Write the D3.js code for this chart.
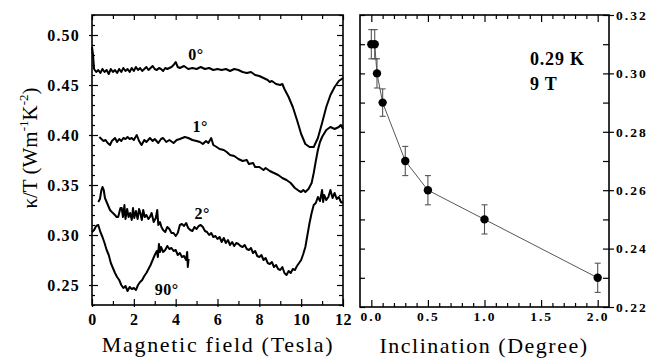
<!DOCTYPE html>
<html>
<head>
<meta charset="utf-8">
<script src="https://cdn.jsdelivr.net/npm/d3@7"></script>
<style>
  body { margin: 0; background: #fff; }
  svg { display: block; }
  .tick text { font-family: "Liberation Serif", "Times New Roman", serif; font-weight: bold; fill: #000; }
  .domain { display: none; }
  .tick line { stroke: #000; stroke-width: 1.2; }
</style>
</head>
<body>
<div id="chart"></div>
<script>
// Left panel: kappa/T vs field, four inclinations
const field0 = [0.0,0.05,0.1,0.2,0.3,0.4,0.5,0.6,0.7,0.8,0.9,1.0,1.1,1.2,1.3,1.4,1.5,1.6,1.7,1.8,1.9,2.0,2.1,2.2,2.3,2.4,2.5,2.6,2.7,2.8,2.9,3.0,3.1,3.2,3.3,3.4,3.5,3.6,3.7,3.8,3.9,4.0,4.1,4.2,4.4,4.6,4.8,5.0,5.2,5.4,5.6,5.8,6.0,6.2,6.4,6.6,6.8,7.0,7.2,7.4,7.6,7.8,8.0,8.2,8.4,8.5,8.6,8.8,9.0,9.1,9.2,9.4,9.6,9.8,10.0,10.2,10.4,10.6,10.8,11.0,11.2,11.4,11.6,11.8,12.0]
const kappa0 = [0.488,0.480,0.466,0.463,0.465,0.462,0.466,0.463,0.465,0.461,0.466,0.463,0.465,0.462,0.466,0.463,0.467,0.464,0.466,0.463,0.467,0.464,0.468,0.465,0.467,0.464,0.466,0.468,0.465,0.467,0.469,0.466,0.465,0.467,0.466,0.464,0.467,0.466,0.467,0.468,0.470,0.473,0.468,0.467,0.469,0.466,0.467,0.466,0.468,0.466,0.467,0.465,0.466,0.465,0.466,0.464,0.466,0.465,0.463,0.462,0.463,0.460,0.459,0.457,0.455,0.453,0.454,0.451,0.450,0.451,0.446,0.438,0.428,0.415,0.401,0.391,0.388,0.388,0.397,0.412,0.428,0.440,0.448,0.454,0.457]

const field1 = [0.35,0.45,0.55,0.65,0.75,0.86,0.95,1.05,1.1,1.2,1.3,1.4,1.5,1.6,1.7,1.8,1.9,2.0,2.14,2.25,2.37,2.5,2.6,2.77,2.9,3.0,3.17,3.3,3.4,3.55,3.7,3.9,4.05,4.2,4.44,4.6,4.8,5.0,5.16,5.3,5.45,5.56,5.7,5.8,5.96,6.1,6.3,6.44,6.6,6.8,7.0,7.2,7.4,7.5,7.7,7.8,8.0,8.2,8.3,8.5,8.7,8.9,9.1,9.3,9.5,9.7,9.9,10.0,10.1,10.2,10.35,10.5,10.6,10.7,10.8,10.9,11.0,11.2,11.4,11.6,11.8,11.9,12.0]
const kappa1 = [0.398,0.396,0.394,0.395,0.392,0.390,0.394,0.396,0.397,0.393,0.396,0.394,0.397,0.396,0.398,0.396,0.397,0.395,0.400,0.394,0.390,0.395,0.393,0.397,0.394,0.396,0.392,0.396,0.397,0.393,0.395,0.392,0.395,0.396,0.398,0.397,0.395,0.394,0.393,0.391,0.394,0.392,0.397,0.390,0.388,0.386,0.385,0.383,0.380,0.379,0.376,0.374,0.375,0.371,0.372,0.368,0.368,0.365,0.367,0.364,0.362,0.360,0.357,0.355,0.352,0.347,0.344,0.343,0.345,0.343,0.346,0.352,0.362,0.374,0.385,0.393,0.398,0.405,0.408,0.406,0.408,0.410,0.406]

const field2 = [0.3,0.38,0.45,0.5,0.56,0.62,0.7,0.8,0.86,0.95,1.05,1.18,1.25,1.3,1.36,1.42,1.48,1.55,1.6,1.68,1.75,1.82,1.9,1.96,2.02,2.1,2.18,2.25,2.3,2.38,2.45,2.52,2.6,2.7,2.77,2.85,2.95,3.05,3.12,3.17,3.25,3.32,3.4,3.5,3.6,3.7,3.8,3.9,4.0,4.1,4.2,4.3,4.4,4.5,4.6,4.7,4.8,4.9,5.0,5.1,5.2,5.3,5.4,5.5,5.6,5.7,5.8,5.9,6.0,6.1,6.2,6.3,6.4,6.5,6.6,6.7,6.8,6.9,7.0,7.1,7.2,7.3,7.4,7.5,7.6,7.7,7.8,7.9,8.0,8.1,8.2,8.3,8.4,8.5,8.6,8.7,8.8,8.9,9.0,9.1,9.2,9.3,9.4,9.5,9.6,9.7,9.8,9.9,10.0,10.1,10.2,10.3,10.4,10.5,10.6,10.7,10.8,10.9,11.0,11.05,11.1,11.2,11.3,11.4,11.5,11.6,11.7,11.8,11.9,12.0]
const kappa2 = [0.333,0.336,0.345,0.348,0.345,0.337,0.333,0.328,0.325,0.323,0.321,0.318,0.318,0.322,0.327,0.327,0.318,0.330,0.316,0.326,0.318,0.322,0.315,0.327,0.317,0.324,0.316,0.326,0.323,0.315,0.325,0.318,0.320,0.316,0.318,0.322,0.313,0.317,0.325,0.310,0.313,0.308,0.305,0.303,0.308,0.306,0.302,0.302,0.299,0.302,0.310,0.311,0.309,0.312,0.307,0.305,0.304,0.308,0.306,0.309,0.310,0.308,0.304,0.303,0.300,0.302,0.298,0.299,0.296,0.298,0.293,0.297,0.292,0.295,0.290,0.293,0.289,0.292,0.291,0.289,0.288,0.290,0.286,0.285,0.287,0.282,0.284,0.279,0.278,0.280,0.275,0.277,0.272,0.271,0.273,0.268,0.270,0.266,0.265,0.268,0.262,0.260,0.264,0.262,0.266,0.265,0.269,0.272,0.275,0.281,0.288,0.300,0.312,0.322,0.330,0.332,0.338,0.334,0.345,0.333,0.340,0.335,0.338,0.345,0.337,0.342,0.336,0.338,0.333,0.332]

const field90 = [0.0,0.1,0.2,0.3,0.4,0.5,0.6,0.7,0.8,0.9,1.0,1.1,1.2,1.3,1.4,1.5,1.6,1.7,1.8,1.9,2.0,2.1,2.2,2.3,2.4,2.5,2.6,2.7,2.8,2.9,3.0,3.1,3.15,3.2,3.25,3.3,3.4,3.5,3.6,3.7,3.8,3.9,4.0,4.1,4.2,4.3,4.4,4.5,4.55,4.58,4.62]
const kappa90 = [0.303,0.305,0.309,0.310,0.303,0.298,0.292,0.285,0.280,0.272,0.267,0.262,0.258,0.255,0.250,0.247,0.249,0.244,0.248,0.246,0.247,0.245,0.250,0.253,0.255,0.259,0.262,0.266,0.270,0.275,0.280,0.284,0.278,0.291,0.283,0.288,0.283,0.285,0.289,0.286,0.287,0.284,0.285,0.280,0.282,0.278,0.279,0.275,0.283,0.268,0.276]

const curveLabels = ['0°', '1°', '2°', '90°']

// Right panel: kappa/T at 0.29 K, 9 T vs inclination
const inclination = [0, 0.03, 0.05, 0.1, 0.3, 0.5, 1.0, 2.0]
const kappaIncl = [0.31, 0.31, 0.30, 0.29, 0.27, 0.26, 0.25, 0.23]
const kappaErr = [0.005, 0.005, 0.005, 0.0047, 0.005, 0.005, 0.005, 0.005]

const leftYTicks = [0.25, 0.30, 0.35, 0.40, 0.45, 0.50]
const leftXTicks = [0, 2, 4, 6, 8, 10, 12]
const rightYTicks = [0.22, 0.24, 0.26, 0.28, 0.30, 0.32]
const rightXTicks = [0, 0.5, 1.0, 1.5, 2.0]

const W = 647, H = 360
const serif = '"Liberation Serif", "Times New Roman", serif'

const svg = d3.select('#chart').append('svg')
  .attr('width', W)
  .attr('height', H)
  .attr('viewBox', `0 0 ${W} ${H}`)

// ---- left panel ----
const xL = d3.scaleLinear().domain([0, 12]).range([92, 343])
const yL = d3.scaleLinear().domain([0.23, 0.52]).range([305, 15])

const minorL = d3.range(23, 53).map(d => d / 100).filter(d => Math.round(d * 100) % 5 !== 0)
const minorLX = d3.range(1, 12, 2)

function addAxis(axis, tx, ty, fontSize, spacing) {
  const g = svg.append('g').attr('transform', `translate(${tx},${ty})`).call(axis)
  g.attr('font-family', serif)
  g.selectAll('text')
    .style('font-family', serif)
    .style('font-size', fontSize + 'px')
    .style('letter-spacing', spacing + 'px')
  return g
}

// bottom
addAxis(d3.axisBottom(xL).tickValues(leftXTicks).tickSize(-6).tickPadding(9).tickFormat(d3.format('d')), 0, 305, 16, 0.5)
addAxis(d3.axisBottom(xL).tickValues(leftXTicks).tickSize(2).tickFormat(''), 0, 305, 16, 0)
addAxis(d3.axisBottom(xL).tickValues(minorLX).tickSize(-4).tickFormat(''), 0, 305, 16, 0)
// top
addAxis(d3.axisTop(xL).tickValues(leftXTicks).tickSize(-5).tickFormat(''), 0, 15, 16, 0)
addAxis(d3.axisTop(xL).tickValues(minorLX).tickSize(-4).tickFormat(''), 0, 15, 16, 0)
// left
addAxis(d3.axisLeft(yL).tickValues(leftYTicks).tickSize(-6).tickPadding(12).tickFormat(d3.format('.2f')), 92, 0, 16, 1.2)
addAxis(d3.axisLeft(yL).tickValues(leftYTicks).tickSize(3).tickFormat(''), 92, 0, 16, 0)
addAxis(d3.axisLeft(yL).tickValues(minorL).tickSize(-3).tickFormat(''), 92, 0, 16, 0)
// right
addAxis(d3.axisRight(yL).tickValues(leftYTicks).tickSize(-6).tickFormat(''), 343, 0, 16, 0)
addAxis(d3.axisRight(yL).tickValues(minorL).tickSize(-4).tickFormat(''), 343, 0, 16, 0)

const lineL = d3.line().x(d => xL(d[0])).y(d => yL(d[1]))
const curves = [
  [field0, kappa0],
  [field1, kappa1],
  [field2, kappa2],
  [field90, kappa90]
]
svg.append('g').selectAll('path')
  .data(curves)
  .join('path')
  .attr('d', c => lineL(c[0].map((b, i) => [b, c[1][i]])))
  .attr('fill', 'none')
  .attr('stroke', '#000')
  .attr('stroke-width', 2)
  .attr('stroke-linejoin', 'round')

// curve labels placed at field / kappa positions
const labelField = [4.6, 4.8, 4.9, 3.0]
const labelKappa = [0.475, 0.403, 0.316, 0.240]
svg.append('g').selectAll('text')
  .data(curveLabels)
  .join('text')
  .attr('x', (d, i) => xL(labelField[i]))
  .attr('y', (d, i) => yL(labelKappa[i]))
  .attr('font-family', serif)
  .attr('font-weight', 'bold')
  .attr('font-size', 16)
  .attr('letter-spacing', 0.5)
  .text(d => d)

svg.append('rect')
  .attr('x', 92).attr('y', 15).attr('width', 251).attr('height', 290)
  .attr('fill', 'none').attr('stroke', '#000').attr('stroke-width', 1.6)

svg.append('text')
  .attr('x', 218).attr('y', 352)
  .attr('text-anchor', 'middle')
  .attr('font-family', serif)
  .attr('font-size', 22)
  .attr('letter-spacing', 1.7)
  .text('Magnetic field (Tesla)')

const yTitle = svg.append('text')
  .attr('transform', 'translate(37,148) rotate(-90)')
  .attr('text-anchor', 'middle')
  .attr('font-family', serif)
  .attr('font-size', 21)
yTitle.append('tspan').text('κ/T (Wm')
yTitle.append('tspan').attr('font-size', 13).attr('dy', -9).text('-1')
yTitle.append('tspan').attr('dy', 9).text('K')
yTitle.append('tspan').attr('font-size', 13).attr('dy', -9).text('-2')
yTitle.append('tspan').attr('dy', 9).text(')')

// ---- right panel ----
const xR = d3.scaleLinear().domain([-0.1, 2.1]).range([360, 609])
const yR = d3.scaleLinear().domain([0.22, 0.32]).range([307, 15])

const minorRX = d3.range(1, 21).map(d => d / 10).filter(d => Math.round(d * 10) % 5 !== 0)
const minorRY = [0.23, 0.25, 0.27, 0.29, 0.31]
const allRY = d3.range(22, 33).map(d => d / 100)

addAxis(d3.axisBottom(xR).tickValues(rightXTicks).tickSize(-7).tickPadding(4).tickFormat(d3.format('.1f')), 0, 307, 13.5, 2)
addAxis(d3.axisBottom(xR).tickValues(minorRX).tickSize(-4).tickFormat(''), 0, 307, 13, 0)
addAxis(d3.axisTop(xR).tickValues(rightXTicks).tickSize(-7).tickFormat(''), 0, 15, 13, 0)
addAxis(d3.axisTop(xR).tickValues(minorRX).tickSize(-4).tickFormat(''), 0, 15, 13, 0)
addAxis(d3.axisLeft(yR).tickValues(allRY).tickSize(-5).tickFormat(''), 360, 0, 13, 0)
addAxis(d3.axisRight(yR).tickValues(rightYTicks).tickSize(5).tickPadding(2).tickFormat(d3.format('.2f')), 609, 0, 13.5, 2)
addAxis(d3.axisRight(yR).tickValues(rightYTicks).tickSize(-6).tickFormat(''), 609, 0, 13, 0)
addAxis(d3.axisRight(yR).tickValues(minorRY).tickSize(-6).tickFormat(''), 609, 0, 13, 0)

const pts = inclination.map((x, i) => ({ x, y: kappaIncl[i], e: kappaErr[i] }))

svg.append('path')
  .attr('d', d3.line().x(d => xR(d.x)).y(d => yR(d.y))(pts))
  .attr('fill', 'none')
  .attr('stroke', '#444')
  .attr('stroke-width', 0.9)

const eb = svg.append('g').attr('stroke', '#555').attr('stroke-width', 1.1)
eb.selectAll('line.bar').data(pts).join('line')
  .attr('class', 'bar')
  .attr('x1', d => xR(d.x)).attr('x2', d => xR(d.x))
  .attr('y1', d => yR(d.y - d.e)).attr('y2', d => yR(d.y + d.e))
eb.selectAll('line.capTop').data(pts).join('line')
  .attr('class', 'capTop')
  .attr('x1', d => xR(d.x) - 3).attr('x2', d => xR(d.x) + 3)
  .attr('y1', d => yR(d.y + d.e)).attr('y2', d => yR(d.y + d.e))
eb.selectAll('line.capBot').data(pts).join('line')
  .attr('class', 'capBot')
  .attr('x1', d => xR(d.x) - 3).attr('x2', d => xR(d.x) + 3)
  .attr('y1', d => yR(d.y - d.e)).attr('y2', d => yR(d.y - d.e))

svg.append('g').selectAll('circle').data(pts).join('circle')
  .attr('cx', d => xR(d.x))
  .attr('cy', d => yR(d.y))
  .attr('r', 4.2)
  .attr('fill', '#000')

svg.append('rect')
  .attr('x', 360).attr('y', 15).attr('width', 249).attr('height', 292)
  .attr('fill', 'none').attr('stroke', '#000').attr('stroke-width', 1.6)

svg.append('text')
  .attr('x', 484).attr('y', 353)
  .attr('text-anchor', 'middle')
  .attr('font-family', serif)
  .attr('font-size', 22)
  .attr('letter-spacing', 1.5)
  .text('Inclination (Degree)')

const note = svg.append('text')
  .attr('font-family', serif)
  .attr('font-weight', 'bold')
  .attr('font-size', 18)
  .attr('letter-spacing', 0.8)
note.append('tspan').attr('x', 530).attr('y', 65).text('0.29 K')
note.append('tspan').attr('x', 530).attr('y', 90).text('9 T')
</script>
</body>
</html>
